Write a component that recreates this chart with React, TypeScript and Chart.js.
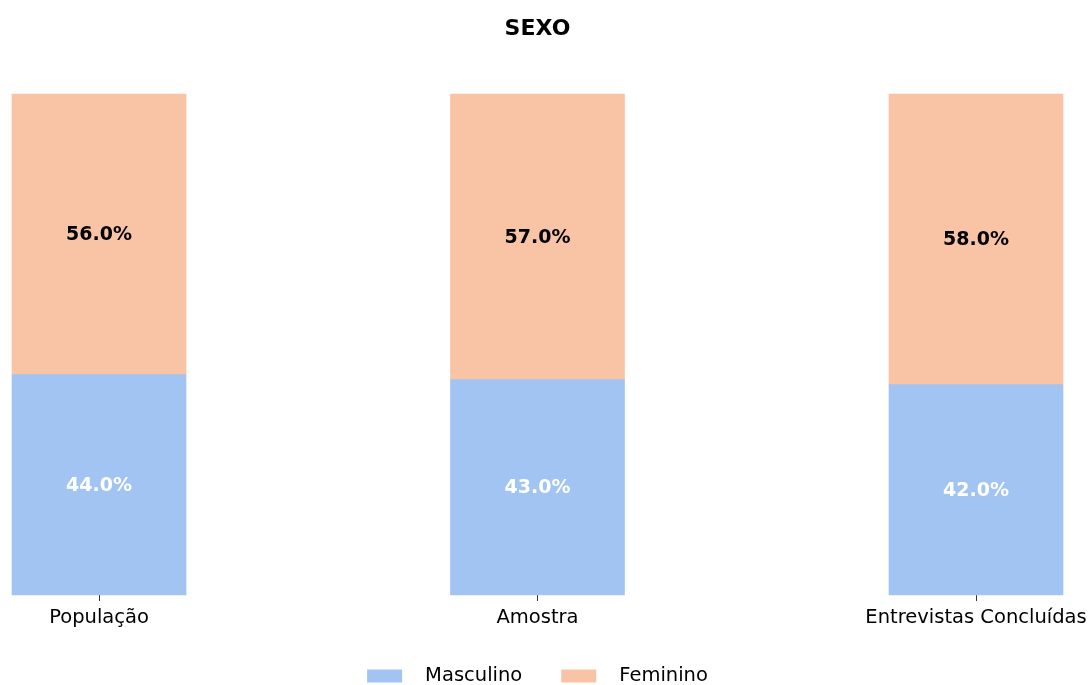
import React, { useEffect, useRef } from "react";
import { Chart, registerables } from "chart.js";

Chart.register(...registerables);

const title = "SEXO";
const categories = ["População", "Amostra", "Entrevistas Concluídas"];
const masculino = [44.0, 43.0, 42.0];
const feminino = [56.0, 57.0, 58.0];
const seriesNames = ["Masculino", "Feminino"];

const BLUE = "rgb(162,196,242)";
const ORANGE = "rgb(249,195,166)";
const FONT = "'DejaVu Sans', sans-serif";

const valueLabels = {
  id: "valueLabels",
  afterDatasetsDraw(chart: any) {
    const ctx = chart.ctx;
    ctx.save();
    ctx.font = `bold 19px ${FONT}`;
    ctx.textAlign = "center";
    ctx.textBaseline = "middle";
    chart.data.datasets.forEach((ds: any, di: number) => {
      const meta = chart.getDatasetMeta(di);
      meta.data.forEach((el: any, i: number) => {
        const v = ds.data[i];
        ctx.fillStyle = di === 0 ? "#ffffff" : "#000000";
        ctx.fillText(`${v.toFixed(1)}%`, el.x, (el.y + el.base) / 2 + 1);
      });
    });
    ctx.restore();
  },
};

const customLegend = {
  id: "customLegend",
  afterDraw(chart: any) {
    const ctx = chart.ctx;
    const area = chart.chartArea;
    ctx.save();
    ctx.font = `19.5px ${FONT}`;
    const boxW = 35;
    const boxH = 13;
    const gapText = 23;
    const gapItem = 39;
    const items = chart.data.datasets.map((ds: any) => ({
      text: ds.label,
      color: ds.backgroundColor,
      w: ctx.measureText(ds.label).width,
    }));
    let total = 0;
    items.forEach((it: any, i: number) => {
      total += boxW + gapText + it.w + (i < items.length - 1 ? gapItem : 0);
    });
    const cx = (area.left + area.right) / 2;
    const cy = 676;
    let x = cx - total / 2;
    ctx.textBaseline = "middle";
    ctx.textAlign = "left";
    items.forEach((it: any) => {
      ctx.fillStyle = it.color;
      ctx.fillRect(x, cy - boxH / 2, boxW, boxH);
      x += boxW + gapText;
      ctx.fillStyle = "#000";
      ctx.fillText(it.text, x, cy);
      x += it.w + gapItem;
    });
    ctx.restore();
  },
};

export default function App() {
  const ref = useRef<HTMLCanvasElement>(null);

  useEffect(() => {
    document.body.style.margin = "0";
    const chart = new Chart(ref.current!, {
      type: "bar",
      data: {
        labels: categories,
        datasets: [
          {
            label: seriesNames[0],
            data: masculino,
            backgroundColor: BLUE,
            barThickness: 174,
            clip: false,
          } as any,
          {
            label: seriesNames[1],
            data: feminino,
            backgroundColor: ORANGE,
            barThickness: 174,
            clip: false,
          } as any,
        ],
      },
      options: {
        responsive: false,
        animation: false,
        layout: { padding: { left: 99, right: 114, top: 0, bottom: 50.7 } },
        scales: {
          x: {
            stacked: true,
            offset: false,
            border: { display: false },
            grid: {
              display: true,
              drawOnChartArea: false,
              drawTicks: true,
              tickLength: 6,
              tickColor: "#333",
              offset: false,
            },
            ticks: {
              color: "#000",
              font: { family: FONT, size: 19.5, lineHeight: 1.4 },
              padding: 3,
              maxRotation: 0,
              autoSkip: false,
            },
          },
          y: {
            stacked: true,
            display: false,
            min: 0,
            max: 100,
          },
        },
        plugins: {
          legend: { display: false },
          tooltip: { enabled: false },
          title: {
            display: true,
            text: title,
            fullSize: false,
            color: "#000",
            font: { family: FONT, size: 22, weight: "bold" },
            padding: { top: 15.8, bottom: 51.8 },
          },
        },
      },
      plugins: [valueLabels, customLegend],
    });
    return () => chart.destroy();
  }, []);

  return (
    <div style={{ width: 1090, height: 685, background: "#fff" }}>
      <canvas ref={ref} width={1090} height={685} style={{ display: "block" }} />
    </div>
  );
}
